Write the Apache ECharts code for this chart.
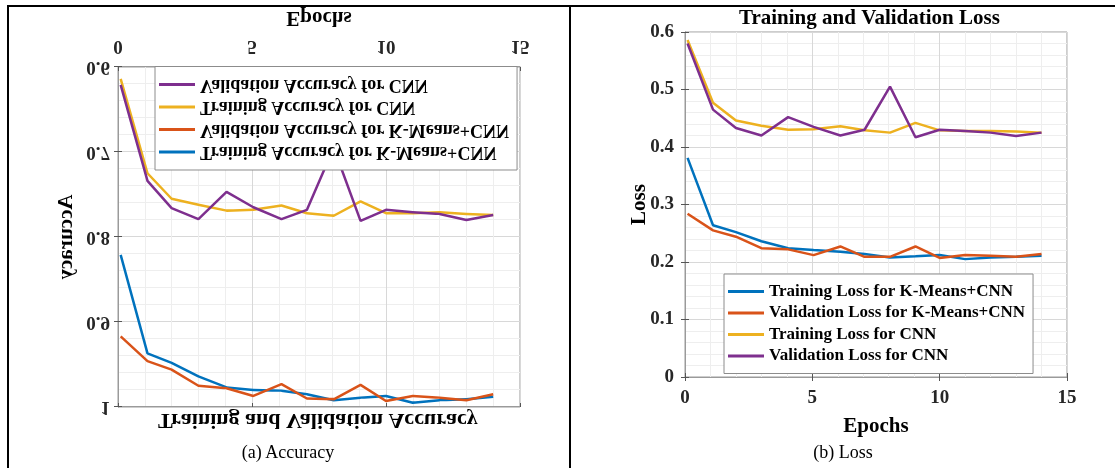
<!DOCTYPE html>
<html>
<head>
<meta charset="utf-8">
<script src="https://cdn.jsdelivr.net/npm/echarts@6/dist/echarts.min.js"></script>
<style>
  html, body { margin: 0; padding: 0; background: #fff; }
  body { width: 1115px; height: 468px; position: relative; overflow: hidden; font-family: 'Liberation Serif', serif; }
  .line { position: absolute; background: #000; }
  .chart { position: absolute; top: 0; height: 468px; }
  #acc { left: 0; width: 570px; transform: scaleY(-1); }
  #loss { left: 572px; width: 543px; }
  .cap { position: absolute; top: 442px; font-size: 18px; color: #000; text-align: center; }
</style>
</head>
<body>
<div class="line" style="left:7px;top:5px;width:1108px;height:1.5px"></div>
<div class="line" style="left:7px;top:5px;width:2px;height:463px"></div>
<div class="line" style="left:569px;top:5px;width:2px;height:463px"></div>
<div id="acc" class="chart"></div>
<div id="loss" class="chart"></div>
<div class="cap" style="left:188px;width:200px">(a) Accuracy</div>
<div class="cap" style="left:743px;width:200px">(b) Loss</div>
<script>
// epochs shared by both plots
var epochs = [0.1, 1.1, 2, 3, 4.05, 5.05, 6.1, 7.05, 8.05, 9.05, 10, 11, 12, 13, 14]

// accuracy
var trainAccKm = [0.821, 0.937, 0.948, 0.964, 0.977, 0.980, 0.981, 0.985, 0.992, 0.989, 0.987, 0.995, 0.992, 0.991, 0.988]
var valAccKm = [0.917, 0.946, 0.956, 0.975, 0.978, 0.987, 0.973, 0.990, 0.991, 0.974, 0.993, 0.987, 0.989, 0.992, 0.985]
var trainAccCnn = [0.614, 0.725, 0.755, 0.762, 0.769, 0.768, 0.763, 0.772, 0.775, 0.758, 0.772, 0.772, 0.771, 0.773, 0.774]
var valAccCnn = [0.621, 0.734, 0.766, 0.779, 0.747, 0.765, 0.779, 0.768, 0.695, 0.781, 0.768, 0.771, 0.773, 0.780, 0.774]

// loss
var trainLossKm = [0.381, 0.264, 0.252, 0.236, 0.224, 0.221, 0.218, 0.214, 0.208, 0.210, 0.212, 0.205, 0.208, 0.209, 0.211]
var valLossKm = [0.284, 0.255, 0.244, 0.224, 0.222, 0.212, 0.227, 0.209, 0.209, 0.227, 0.207, 0.212, 0.211, 0.209, 0.214]
var trainLossCnn = [0.586, 0.477, 0.446, 0.437, 0.430, 0.431, 0.436, 0.429, 0.425, 0.442, 0.429, 0.428, 0.428, 0.427, 0.425]
var valLossCnn = [0.580, 0.465, 0.433, 0.420, 0.452, 0.435, 0.420, 0.430, 0.505, 0.417, 0.430, 0.428, 0.425, 0.419, 0.425]

var colors = ['#0072BD', '#D95319', '#EDB120', '#7E2F8E']
var font = 'Liberation Serif'

function pairs(ys) {
    return ys.map(function (y, i) { return [epochs[i], y] })
}

function valueAxis(pos, min, max, interval, showLabel, extra) {
    var ax = {
        type: 'value', position: pos, min: min, max: max, interval: interval,
        axisLine: { show: true, lineStyle: { color: '#9a9a9a' } },
        axisTick: { show: true, inside: true, length: 4, lineStyle: { color: '#555' } },
        axisLabel: { show: showLabel, color: '#262626', fontFamily: font, fontWeight: 'bold', fontSize: 19 },
        splitLine: { show: showLabel, lineStyle: { color: '#d8d8d8' } },
        minorTick: { show: false, splitNumber: 5 },
        minorSplitLine: { show: showLabel, lineStyle: { color: '#eeeeee' } }
    }
    return Object.assign(ax, extra || {})
}

function makeChart(el, cfg) {
    var chart = echarts.init(document.getElementById(el))
    var nameStyle = { color: '#000', fontFamily: font, fontWeight: 'bold', fontSize: 21 }
    chart.setOption({
        animation: false,
        title: {
            text: cfg.title, left: cfg.titleLeft, top: cfg.titleTop, padding: 0,
            textStyle: { color: '#000', fontFamily: font, fontWeight: 'bold', fontSize: cfg.titleSize }
        },
        grid: Object.assign({ show: true, borderColor: '#9a9a9a', borderWidth: 1, backgroundColor: '#fff' }, cfg.grid),
        legend: Object.assign({
            orient: 'vertical', icon: 'rect', itemWidth: 36, itemHeight: 3, itemGap: 4.5,
            backgroundColor: '#fff', borderColor: '#8c8c8c', borderWidth: 1,
            padding: [9, 8, 9, 4],
            textStyle: { color: '#000', fontFamily: font, fontWeight: 'bold', fontSize: cfg.legendSize, lineHeight: 17 },
            data: cfg.names
        }, cfg.legend),
        xAxis: [
            valueAxis('bottom', 0, 15, 5, true, {
                name: 'Epochs', nameLocation: 'middle', nameGap: cfg.xNameGap, nameTextStyle: nameStyle,
                nameMoveOverlap: false,
                axisLabel: { color: '#262626', fontFamily: font, fontWeight: 'bold', fontSize: 19, margin: cfg.xMargin }
            }),
            valueAxis('top', 0, 15, 5, false)
        ],
        yAxis: [
            valueAxis('left', cfg.yMin, cfg.yMax, 0.1, true, {
                name: cfg.yName, nameLocation: 'middle', nameGap: cfg.yNameGap, nameTextStyle: nameStyle,
                nameMoveOverlap: false,
                axisLabel: { color: '#262626', fontFamily: font, fontWeight: 'bold', fontSize: 19, margin: cfg.yMargin }
            }),
            valueAxis('right', cfg.yMin, cfg.yMax, 0.1, false)
        ],
        series: cfg.data.map(function (ys, i) {
            return {
                name: cfg.names[i], type: 'line', data: pairs(ys), showSymbol: false,
                color: colors[i], lineStyle: { width: 2.5 }
            }
        })
    })
    return chart
}

// left plot is shown mirrored top-to-bottom, as in the figure
makeChart('acc', {
    title: 'Training and Validation Accuracy', titleLeft: 158, titleTop: 37, titleSize: 22,
    grid: { left: 118, right: 50, top: 61, bottom: 67 },
    legend: { left: 155, top: 298 }, legendSize: 18,
    yName: 'Accuracy', yMin: 0.6, yMax: 1, yNameGap: 41, yMargin: 8,
    xNameGap: 39, xMargin: 12,
    names: ['Training Accuracy for K-Means+CNN', 'Validation Accuracy for K-Means+CNN',
        'Training Accuracy for CNN', 'Validation Accuracy for CNN'],
    data: [trainAccKm, valAccKm, trainAccCnn, valAccCnn]
})

makeChart('loss', {
    title: 'Training and Validation Loss', titleLeft: 167, titleTop: 8, titleSize: 21,
    grid: { left: 113, right: 48, top: 32, bottom: 91 },
    legend: { left: 152, top: 274 }, legendSize: 17,
    yName: 'Loss', yMin: 0, yMax: 0.6, yNameGap: 35, yMargin: 11,
    xNameGap: 39, xMargin: 12,
    names: ['Training Loss for K-Means+CNN', 'Validation Loss for K-Means+CNN',
        'Training Loss for CNN', 'Validation Loss for CNN'],
    data: [trainLossKm, valLossKm, trainLossCnn, valLossCnn]
})
</script>
</body>
</html>
